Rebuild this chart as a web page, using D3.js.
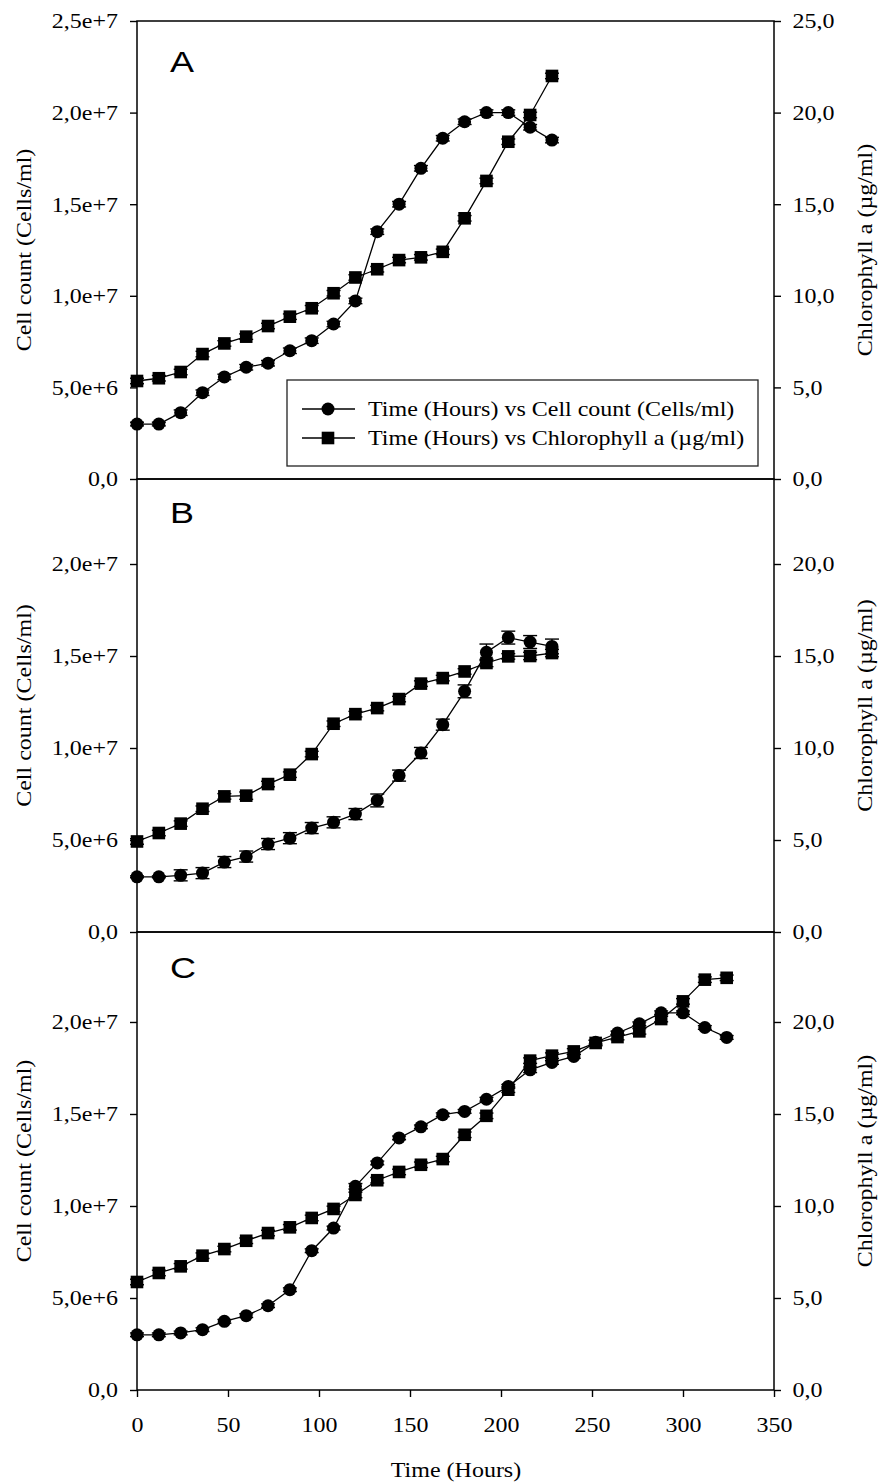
<!DOCTYPE html>
<html>
<head>
<meta charset="utf-8">
<script src="https://cdn.jsdelivr.net/npm/d3@7"></script>
<style>
  body { margin: 0; background: #fff; }
  svg { display: block; }
</style>
</head>
<body>
<svg id="chart" width="881" height="1484"></svg>
<script>
// Sampling times (hours)
const hoursAB = [0, 12, 24, 36, 48, 60, 72, 84, 96, 108, 120, 132, 144, 156, 168, 180, 192, 204, 216, 228];
const hoursC = [0, 12, 24, 36, 48, 60, 72, 84, 96, 108, 120, 132, 144, 156, 168, 180, 192, 204, 216, 228,
                240, 252, 264, 276, 288, 300, 312, 324];

// Panel A
const cellsA = [3.00e6, 3.00e6, 3.62e6, 4.71e6, 5.57e6, 6.10e6, 6.32e6, 7.00e6, 7.55e6, 8.46e6,
                9.72e6, 13.5e6, 15.0e6, 16.96e6, 18.6e6, 19.5e6, 20.0e6, 20.0e6, 19.2e6, 18.5e6];
const cellsErrA = [0.10e6, 0.10e6, 0.15e6, 0.15e6, 0.15e6, 0.15e6, 0.15e6, 0.15e6, 0.15e6, 0.15e6,
                   0.15e6, 0.15e6, 0.15e6, 0.15e6, 0.15e6, 0.15e6, 0.15e6, 0.15e6, 0.15e6, 0.15e6];
const chlA = [5.35, 5.50, 5.84, 6.82, 7.40, 7.77, 8.35, 8.86, 9.32, 10.14,
              11.00, 11.45, 11.95, 12.10, 12.40, 14.23, 16.27, 18.41, 19.87, 22.00];
const chlErrA = [0.15, 0.15, 0.15, 0.15, 0.15, 0.15, 0.15, 0.15, 0.15, 0.15,
                 0.15, 0.15, 0.15, 0.15, 0.15, 0.15, 0.15, 0.15, 0.15, 0.15];

// Panel B
const cellsB = [3.00e6, 3.00e6, 3.08e6, 3.20e6, 3.80e6, 4.10e6, 4.78e6, 5.10e6, 5.65e6, 5.96e6,
                6.41e6, 7.15e6, 8.50e6, 9.73e6, 11.27e6, 13.08e6, 15.2e6, 16.0e6, 15.76e6, 15.52e6];
const cellsErrB = [0.05e6, 0.05e6, 0.30e6, 0.30e6, 0.30e6, 0.30e6, 0.30e6, 0.30e6, 0.30e6, 0.30e6,
                   0.30e6, 0.35e6, 0.30e6, 0.30e6, 0.30e6, 0.35e6, 0.45e6, 0.35e6, 0.35e6, 0.40e6];
const chlB = [4.92, 5.38, 5.89, 6.70, 7.37, 7.41, 8.04, 8.55, 9.67, 11.32,
              11.84, 12.17, 12.66, 13.50, 13.80, 14.16, 14.62, 14.98, 15.00, 15.16];
const chlErrB = [0.15, 0.15, 0.15, 0.15, 0.15, 0.20, 0.15, 0.15, 0.15, 0.15,
                 0.15, 0.15, 0.15, 0.15, 0.15, 0.15, 0.20, 0.15, 0.20, 0.20];

// Panel C
const cellsC = [3.00e6, 3.00e6, 3.10e6, 3.28e6, 3.73e6, 4.04e6, 4.58e6, 5.45e6, 7.57e6, 8.80e6,
                11.07e6, 12.34e6, 13.7e6, 14.3e6, 14.96e6, 15.14e6, 15.8e6, 16.5e6, 17.4e6, 17.8e6,
                18.13e6, 18.9e6, 19.4e6, 19.9e6, 20.5e6, 20.5e6, 19.7e6, 19.16e6];
const cellsErrC = [0.10e6, 0.10e6, 0.10e6, 0.10e6, 0.10e6, 0.10e6, 0.10e6, 0.10e6, 0.10e6, 0.10e6,
                   0.15e6, 0.10e6, 0.10e6, 0.10e6, 0.10e6, 0.10e6, 0.10e6, 0.10e6, 0.15e6, 0.10e6,
                   0.10e6, 0.10e6, 0.10e6, 0.10e6, 0.10e6, 0.10e6, 0.10e6, 0.10e6];
const chlC = [5.87, 6.36, 6.72, 7.30, 7.66, 8.11, 8.53, 8.84, 9.35, 9.84,
              10.60, 11.40, 11.85, 12.24, 12.55, 13.87, 14.90, 16.32, 17.90, 18.17,
              18.40, 18.86, 19.18, 19.49, 20.16, 21.12, 22.30, 22.40];
const chlErrC = [0.15, 0.15, 0.15, 0.15, 0.15, 0.15, 0.15, 0.15, 0.15, 0.15,
                 0.15, 0.15, 0.15, 0.15, 0.15, 0.15, 0.15, 0.15, 0.15, 0.15,
                 0.15, 0.15, 0.15, 0.15, 0.15, 0.15, 0.15, 0.15];

// Axis ticks and their labels
const timeTicks = [0, 50, 100, 150, 200, 250, 300, 350];
const cellTicksA = [0, 5e6, 10e6, 15e6, 20e6, 25e6];
const cellTickLabelsA = ["0,0", "5,0e+6", "1,0e+7", "1,5e+7", "2,0e+7", "2,5e+7"];
const cellTicksBC = [0, 5e6, 10e6, 15e6, 20e6];
const cellTickLabelsBC = ["0,0", "5,0e+6", "1,0e+7", "1,5e+7", "2,0e+7"];
const chlTicksA = [0, 5, 10, 15, 20, 25];
const chlTickLabelsA = ["0,0", "5,0", "10,0", "15,0", "20,0", "25,0"];
const chlTicksBC = [0, 5, 10, 15, 20];
const chlTickLabelsBC = ["0,0", "5,0", "10,0", "15,0", "20,0"];

// Upper ends of each panel's axes (cells/ml and µg/ml share one vertical scale)
const panelLetters = ["A", "B", "C"];
const cellMax = [25.0e6, 24.62e6, 24.89e6];
const chlMax = [25.0, 24.62, 24.89];

const legendLabels = ["Time (Hours) vs Cell count (Cells/ml)", "Time (Hours) vs Chlorophyll a (\u00b5g/ml)"];
const axisTitles = { x: "Time (Hours)", left: "Cell count (Cells/ml)", right: "Chlorophyll a (\u00b5g/ml)" };

// ---- layout ----
const SERIF = "'Liberation Serif', 'Times New Roman', serif";
const SANS = "'Liberation Sans', Arial, sans-serif";
const FS = 24;          // base font size
const SQ = 0.83;        // glyph-height squeeze
const xL = 137, xR = 774;
const bands = [[21, 479], [479, 932], [932, 1390]];

const svg = d3.select("#chart");
svg.append("rect").attr("width", 881).attr("height", 1484).attr("fill", "#fff");

const x = d3.scaleLinear().domain([0, 350]).range([xL, xR]);

const panels = [
  { hours: hoursAB, cells: cellsA, cellsErr: cellsErrA, chl: chlA, chlErr: chlErrA,
    cTicks: cellTicksA, cLabels: cellTickLabelsA, hTicks: chlTicksA, hLabels: chlTickLabelsA },
  { hours: hoursAB, cells: cellsB, cellsErr: cellsErrB, chl: chlB, chlErr: chlErrB,
    cTicks: cellTicksBC, cLabels: cellTickLabelsBC, hTicks: chlTicksBC, hLabels: chlTickLabelsBC },
  { hours: hoursC, cells: cellsC, cellsErr: cellsErrC, chl: chlC, chlErr: chlErrC,
    cTicks: cellTicksBC, cLabels: cellTickLabelsBC, hTicks: chlTicksBC, hLabels: chlTickLabelsBC }
];

function squeezeText(sel, dx, dy) {
  sel.attr("x", null).attr("y", null).attr("dy", null)
     .attr("transform", `translate(${dx},${dy}) scale(1,${SQ})`)
     .attr("font-family", SERIF).attr("font-size", FS).attr("fill", "#000");
}

function styleAxis(g) {
  g.select(".domain").remove();
  g.selectAll(".tick line").attr("stroke", "#000").attr("stroke-width", 1.4);
}

panels.forEach((p, i) => {
  const [top, bottom] = bands[i];
  const yCell = d3.scaleLinear().domain([0, cellMax[i]]).range([bottom, top]);
  const yChl = d3.scaleLinear().domain([0, chlMax[i]]).range([bottom, top]);
  const g = svg.append("g");

  // left axis: cell count
  const la = g.append("g").attr("transform", `translate(${xL},0)`)
    .call(d3.axisLeft(yCell).tickValues(p.cTicks).tickFormat((d, k) => p.cLabels[k]).tickSizeOuter(0).tickSize(7));
  styleAxis(la);
  la.selectAll(".tick text").attr("text-anchor", "end").call(squeezeText, -19, 6.8);

  // right axis: chlorophyll a
  const ra = g.append("g").attr("transform", `translate(${xR},0)`)
    .call(d3.axisRight(yChl).tickValues(p.hTicks).tickFormat((d, k) => p.hLabels[k]).tickSizeOuter(0).tickSize(7));
  styleAxis(ra);
  ra.selectAll(".tick text").attr("text-anchor", "start").call(squeezeText, 18.5, 6.8);

  // frame
  g.append("rect").attr("x", xL).attr("y", top).attr("width", xR - xL).attr("height", bottom - top)
    .attr("fill", "none").attr("stroke", "#000").attr("stroke-width", 1.5);

  // bottom time axis on the last panel
  if (i === panels.length - 1) {
    const xa = g.append("g").attr("transform", `translate(0,${bottom})`)
      .call(d3.axisBottom(x).tickValues(timeTicks).tickFormat(d3.format("d")).tickSizeOuter(0).tickSize(7));
    styleAxis(xa);
    xa.selectAll(".tick text").attr("text-anchor", "middle").call(squeezeText, 0, 42);
  }

  // panel letter
  g.append("text").text(panelLetters[i])
    .attr("transform", `translate(${x(0) + 33},${top + [51, 44, 46][i]}) scale(1,${SQ})`)
    .attr("font-family", SANS).attr("font-size", 36).attr("fill", "#000");

  // axis titles
  const mid = (top + bottom) / 2;
  g.append("text").text(axisTitles.left).attr("text-anchor", "middle")
    .attr("transform", `translate(31,${mid}) rotate(-90) scale(1,${SQ})`)
    .attr("font-family", SERIF).attr("font-size", FS).attr("fill", "#000");
  g.append("text").text(axisTitles.right).attr("text-anchor", "middle")
    .attr("transform", `translate(872,${mid}) rotate(-90) scale(1,${SQ})`)
    .attr("font-family", SERIF).attr("font-size", FS).attr("fill", "#000");

  const cellPts = p.hours.map((h, k) => ({ h, v: p.cells[k], e: p.cellsErr[k] }));
  const chlPts = p.hours.map((h, k) => ({ h, v: p.chl[k], e: p.chlErr[k] }));

  const line = (ys) => d3.line().x(d => x(d.h)).y(d => ys(d.v));

  [[cellPts, yCell], [chlPts, yChl]].forEach(([pts, ys]) => {
    g.append("path").datum(pts).attr("d", line(ys))
      .attr("fill", "none").attr("stroke", "#000").attr("stroke-width", 1.3);
    const eb = g.append("g").selectAll("g").data(pts).join("g").attr("stroke", "#000").attr("stroke-width", 1.4);
    eb.append("line").attr("x1", d => x(d.h)).attr("x2", d => x(d.h))
      .attr("y1", d => ys(d.v - d.e)).attr("y2", d => ys(d.v + d.e));
    eb.append("line").attr("x1", d => x(d.h) - 7).attr("x2", d => x(d.h) + 7)
      .attr("y1", d => ys(d.v + d.e)).attr("y2", d => ys(d.v + d.e));
    eb.append("line").attr("x1", d => x(d.h) - 7).attr("x2", d => x(d.h) + 7)
      .attr("y1", d => ys(d.v - d.e)).attr("y2", d => ys(d.v - d.e));
  });

  g.append("g").selectAll("circle").data(cellPts).join("circle")
    .attr("cx", d => x(d.h)).attr("cy", d => yCell(d.v)).attr("r", 6.5).attr("fill", "#000");
  g.append("g").selectAll("rect").data(chlPts).join("rect")
    .attr("x", d => x(d.h) - 6.3).attr("y", d => yChl(d.v) - 6.3)
    .attr("width", 12.6).attr("height", 12.6).attr("fill", "#000");

  // legend in the first panel
  if (i === 0) {
    const lg = g.append("g");
    lg.append("rect").attr("x", 287).attr("y", 380).attr("width", 471).attr("height", 86)
      .attr("fill", "#fff").attr("stroke", "#222").attr("stroke-width", 1.3);
    legendLabels.forEach((lab, k) => {
      const cy = 409 + k * 29;
      lg.append("line").attr("x1", 302).attr("x2", 355).attr("y1", cy).attr("y2", cy)
        .attr("stroke", "#000").attr("stroke-width", 1.3);
      if (k === 0) lg.append("circle").attr("cx", 328).attr("cy", cy).attr("r", 6.5).attr("fill", "#000");
      else lg.append("rect").attr("x", 328 - 6.3).attr("y", cy - 6.3).attr("width", 12.6).attr("height", 12.6).attr("fill", "#000");
      lg.append("text").text(lab)
        .attr("transform", `translate(368,${cy + 7}) scale(1,${SQ})`)
        .attr("font-family", SERIF).attr("font-size", FS).attr("fill", "#000");
    });
  }
});

// x-axis title
svg.append("text").text(axisTitles.x).attr("text-anchor", "middle")
  .attr("transform", `translate(456,1477) scale(1,${SQ})`)
  .attr("font-family", SERIF).attr("font-size", FS).attr("fill", "#000");
</script>
</body>
</html>
